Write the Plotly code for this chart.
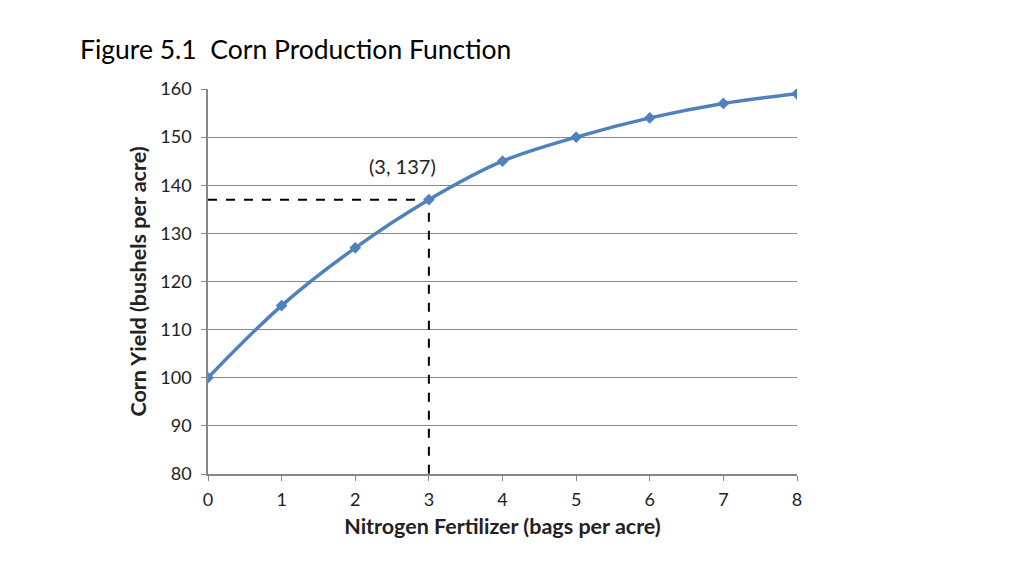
import plotly.graph_objects as go

fertilizer = [0, 1, 2, 3, 4, 5, 6, 7, 8]
corn_yield = [100, 115, 127, 137, 145, 150, 154, 157, 159]
highlight = 3  # index of the marked point

FONT = "Lato"
BLUE = "#4F81BD"
GRID = "#878787"

fig = go.Figure()

hx = fertilizer[highlight]
hy = corn_yield[highlight]

# dashed guides to the highlighted point
fig.add_trace(go.Scatter(x=[fertilizer[0], hx, hx], y=[hy, hy, 80],
                         mode="lines", line=dict(color="black", width=2, dash="dash"),
                         hoverinfo="skip", showlegend=False))

fig.add_trace(go.Scatter(x=fertilizer, y=corn_yield, mode="lines+markers",
                         line=dict(color=BLUE, width=3.5, shape="spline"),
                         marker=dict(symbol="diamond", size=9, color=BLUE),
                         showlegend=False))

fig.add_annotation(x=hx, y=hy, text=f"({hx}, {hy})", showarrow=False,
                   xshift=-26, yshift=34, font=dict(family=FONT, size=20, color="#222"))

fig.update_layout(
    width=1024, height=576,
    margin=dict(l=200, r=235, t=81, b=110),
    paper_bgcolor="white", plot_bgcolor="white",
    font=dict(family=FONT, color="#222"),
    title=dict(text="Figure 5.1  Corn Production Function", x=72 / 1024, xanchor="left",
               y=1 - 42 / 576, yanchor="middle", font=dict(family=FONT, size=26.5, color="black")),
)

fig.update_xaxes(range=[0, 8], dtick=1, showgrid=False, showline=True, linecolor=GRID, linewidth=1.5,
                 ticks="outside", ticklen=5, tickcolor=GRID, tickfont=dict(size=18), ticklabelstandoff=4,
                 title=dict(text="<b>Nitrogen Fertilizer (bags per acre)</b>", font=dict(size=21.5), standoff=10),
                 zeroline=False)
fig.update_yaxes(range=[80, 160], dtick=10, showgrid=True, gridcolor=GRID, gridwidth=1.2,
                 showline=True, linecolor=GRID, linewidth=1.5,
                 ticks="outside", ticklen=5, tickcolor=GRID, tickfont=dict(size=18), ticklabelstandoff=6,
                 title=dict(text="<b>Corn Yield (bushels per acre)</b>", font=dict(size=21.5), standoff=8),
                 zeroline=False)

fig.write_html("out.html")
